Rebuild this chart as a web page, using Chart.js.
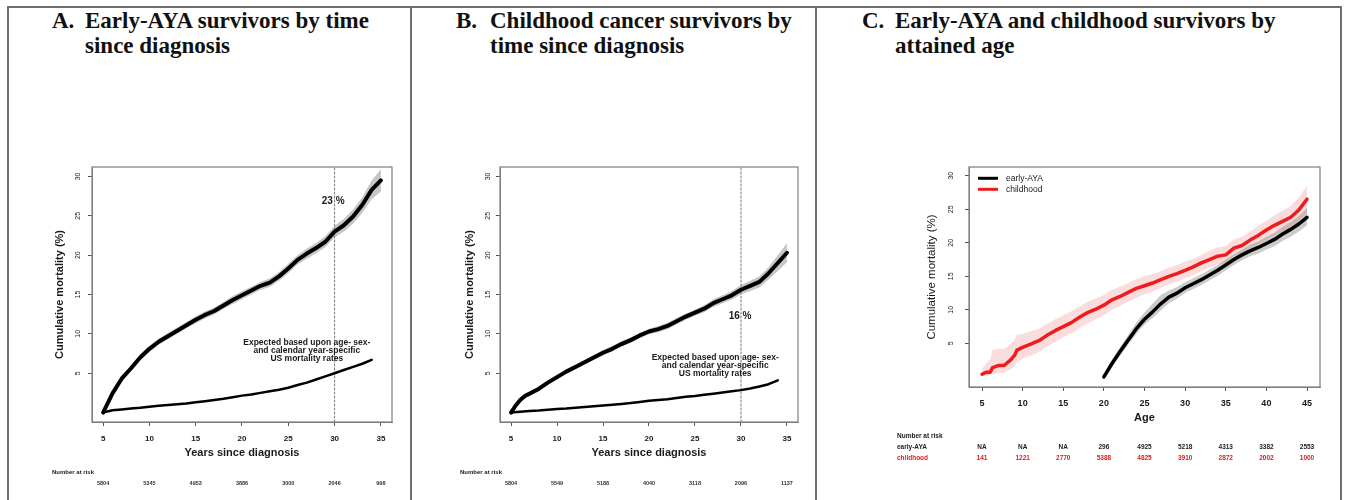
<!DOCTYPE html>
<html>
<head>
<meta charset="utf-8">
<script src="https://cdn.jsdelivr.net/npm/chart.js@4.4.1/dist/chart.umd.min.js"></script>
<style>
  html, body { margin: 0; padding: 0; background: #fff; }
  body { width: 1346px; height: 500px; position: relative; overflow: hidden; }
  .rule { position: absolute; background: #6f6f6f; }
  .ttl { position: absolute; font-family: "Liberation Serif", "Times New Roman", serif; font-weight: bold;
         font-size: 23px; line-height: 25px; color: #111; white-space: nowrap; }
  canvas { position: absolute; }
</style>
</head>
<body>
<!-- panel frame -->
<div class="rule" style="left:7px;top:6px;width:1335px;height:2px"></div>
<div class="rule" style="left:7px;top:6px;width:2px;height:494px"></div>
<div class="rule" style="left:410px;top:6px;width:2px;height:494px"></div>
<div class="rule" style="left:815px;top:6px;width:2px;height:494px"></div>
<div class="rule" style="left:1340px;top:6px;width:2px;height:494px"></div>

<div class="ttl" style="left:52px;top:8px">A.</div>
<div class="ttl" style="left:85px;top:8px">Early-AYA survivors by time<br>since diagnosis</div>
<div class="ttl" style="left:456px;top:8px">B.</div>
<div class="ttl" style="left:490px;top:8px">Childhood cancer survivors by<br>time since diagnosis</div>
<div class="ttl" style="left:862px;top:8px">C.</div>
<div class="ttl" style="left:895px;top:8px">Early-AYA and childhood survivors by<br>attained age</div>

<canvas id="panelA" width="396" height="355" style="left:12px;top:140px"></canvas>
<canvas id="panelB" width="396" height="355" style="left:416px;top:140px"></canvas>
<canvas id="panelC" width="518" height="355" style="left:820px;top:140px"></canvas>

<script>
// ---------- Panel A: early-AYA survivors, cumulative mortality by years since diagnosis ----------
const yearsA = [5,6,7,8,9,10,11,12,13,14,15,16,17,18,19,20,21,22,23,24,25,26,27,28,29,30,31,32,33,34,35];
const mortA = [0,2.4,4.3,5.6,7.0,8.1,9.0,9.7,10.4,11.1,11.8,12.4,12.9,13.6,14.3,14.9,15.5,16.1,16.5,17.3,18.3,19.4,20.2,20.9,21.7,23.0,23.8,24.9,26.4,28.3,29.5];
const mortAHigh = [0.1,2.7,4.65,5.95,7.4,8.5,9.4,10.1,10.8,11.5,12.25,12.85,13.35,14.05,14.8,15.4,16.0,16.6,17.05,17.85,18.9,20.0,20.85,21.55,22.4,23.75,24.6,25.8,27.4,29.5,30.9];
const mortALow = [0,2.1,3.95,5.25,6.6,7.7,8.6,9.3,10.0,10.7,11.35,11.95,12.45,13.15,13.8,14.4,15.0,15.6,15.95,16.75,17.7,18.8,19.55,20.25,21.0,22.25,23.0,24.0,25.4,27.1,28.1];
const yearsExpA = [5,6,7,8,9,10,11,12,13,14,15,16,17,18,19,20,21,22,23,24,25,26,27,28,29,30,31,32,33,34];
const expectedA = [0,0.3,0.4,0.5,0.6,0.75,0.85,0.95,1.05,1.15,1.3,1.45,1.6,1.75,1.95,2.15,2.3,2.5,2.7,2.9,3.15,3.5,3.8,4.2,4.6,5.0,5.4,5.8,6.2,6.7];
const riskA = [5804,5345,4953,3886,3000,2046,998];

// ---------- Panel B: childhood cancer survivors ----------
const yearsB = [5,5.5,6,6.5,7,8,9,10,11,12,13,14,15,16,17,18,19,20,21,22,23,24,25,26,27,28,29,30,31,32,33,34,35];
const mortB = [0,0.9,1.6,2.1,2.4,3.0,3.8,4.5,5.2,5.8,6.4,7.0,7.6,8.1,8.7,9.2,9.8,10.3,10.6,11.0,11.6,12.2,12.7,13.2,13.9,14.4,14.9,15.6,16.1,16.6,17.7,19.0,20.3];
const mortBHigh = [0.05,1.1,1.85,2.4,2.7,3.3,4.1,4.8,5.5,6.1,6.7,7.3,7.95,8.45,9.05,9.55,10.15,10.65,11.0,11.4,12.0,12.6,13.1,13.65,14.4,14.9,15.45,16.2,16.75,17.3,18.5,20.0,21.5];
const mortBLow = [0,0.7,1.35,1.8,2.1,2.7,3.5,4.2,4.9,5.5,6.1,6.7,7.25,7.75,8.35,8.85,9.45,9.95,10.2,10.6,11.2,11.8,12.3,12.75,13.4,13.9,14.35,15.0,15.45,15.9,16.9,18.0,19.1];
const yearsExpB = [5,6,7,8,9,10,11,12,13,14,15,16,17,18,19,20,21,22,23,24,25,26,27,28,29,30,31,32,33,34];
const expectedB = [0,0.1,0.2,0.25,0.35,0.45,0.5,0.6,0.7,0.8,0.9,1.0,1.1,1.2,1.35,1.5,1.6,1.7,1.85,2.0,2.1,2.25,2.4,2.55,2.7,2.85,3.05,3.3,3.6,4.1];
const riskB = [5804,5549,5188,4040,3118,2096,1137];

// shared by A and B
const yearTicks = [5,10,15,20,25,30,35];
const mortTicks = [5,10,15,20,25,30];
const landmarkYear = 30;
const landmarkA = '23 %';
const landmarkB = '16 %';
const expectedNote = ['Expected based upon age- sex-', 'and calendar year-specific', 'US mortality rates'];

// ---------- Panel C: both groups by attained age ----------
const ageChild = [5,5.5,6,6.3,7,7.7,8,8.5,9,9.3,10,11,12,13,14,15,16,17,18,19,20,21,22,23,24,25,26,27,28,29,30,31,32,33,34,35,36,37,38,39,40,41,42,43,44,45];
const mortChild = [0.4,0.7,0.7,1.4,1.7,1.7,2.0,2.5,3.2,4.0,4.4,4.9,5.4,6.2,6.9,7.5,8.1,8.9,9.6,10.1,10.7,11.5,12.0,12.6,13.2,13.6,14.0,14.5,15.0,15.4,15.9,16.4,17.0,17.5,18.0,18.2,19.2,19.6,20.4,21.1,21.9,22.6,23.2,23.8,24.9,26.5];
const mortChildLow = [0.1,0.2,0.2,0.4,0.6,0.6,0.8,1.1,1.6,2.2,2.7,3.2,3.7,4.5,5.2,5.9,6.5,7.3,8.0,8.6,9.2,10.0,10.6,11.2,11.8,12.3,12.7,13.3,13.8,14.2,14.7,15.2,15.8,16.3,16.8,17.0,18.0,18.4,19.1,19.8,20.5,21.1,21.7,22.2,23.1,24.5];
const mortChildHigh = [1.2,2.0,2.6,4.0,4.2,4.2,4.4,4.9,5.5,6.3,6.4,6.8,7.2,7.9,8.6,9.2,9.8,10.5,11.2,11.7,12.2,13.0,13.5,14.0,14.6,15.0,15.3,15.8,16.3,16.7,17.2,17.6,18.2,18.8,19.3,19.5,20.5,20.9,21.7,22.5,23.3,24.1,24.8,25.5,26.8,28.5];
const ageAya = [20,21,22,23,24,25,26,27,28,29,30,31,32,33,34,35,36,37,38,39,40,41,42,43,44,45];
const mortAya = [0,2.0,3.8,5.5,7.2,8.6,9.7,10.9,11.9,12.5,13.3,13.9,14.5,15.2,15.9,16.7,17.5,18.2,18.8,19.3,19.9,20.5,21.3,22.0,22.8,23.8];
const mortAyaLow = [0,1.5,3.2,4.8,6.4,7.8,8.8,9.9,11.0,11.7,12.5,13.1,13.7,14.4,15.1,15.9,16.7,17.4,18.0,18.4,19.0,19.5,20.3,20.9,21.7,22.6];
const mortAyaHigh = [0.3,2.6,4.5,6.3,8.1,9.6,10.9,12.2,12.9,13.4,14.1,14.7,15.3,16.0,16.7,17.5,18.3,19.0,19.7,20.2,20.9,21.5,22.4,23.1,24.0,25.2];
const ageTicks = [5,10,15,20,25,30,35,40,45];
const riskAya = ['NA','NA','NA',296,4925,5218,4313,3382,2553];
const riskChild = [141,1221,2770,5388,4825,3910,2872,2002,1000];

const SANS = '"Liberation Sans", Arial, Helvetica, sans-serif';
const font = (size, weight) => ({ family: SANS, size: size, weight: weight || 'normal' });
const cssFont = (size, weight) => (weight || 'normal') + ' ' + size + 'px ' + SANS;
const pts = (xs, ys) => xs.map((x, i) => ({ x: x, y: ys[i] }));

// box, rotated y labels, notes, legend and the number-at-risk table
function decor(spec) {
  return {
    id: 'decor',
    afterDatasetsDraw(chart) {
      const { ctx, chartArea: a } = chart;
      ctx.save();
      ctx.strokeStyle = '#7d7d7d';
      ctx.lineWidth = 1.2;
      ctx.strokeRect(a.left, a.top, a.right - a.left, a.bottom - a.top);
      ctx.restore();
    },
    afterDraw(chart) {
      const { ctx, chartArea: a } = chart;
      const xs = chart.scales.x, ys = chart.scales.y;
      ctx.save();
      ctx.fillStyle = '#1a1a1a';
      ctx.textAlign = 'center';
      ctx.textBaseline = 'middle';

      ctx.font = spec.yTickFont;
      ys.ticks.forEach(t => {
        ctx.save();
        ctx.translate(spec.yTickX, ys.getPixelForValue(t.value));
        ctx.rotate(-Math.PI / 2);
        ctx.fillText(String(t.value), 0, 0);
        ctx.restore();
      });

      (spec.notes || []).forEach(n => {
        ctx.font = n.font;
        const x = xs.getPixelForValue(n.x);
        let y = ys.getPixelForValue(n.y);
        n.lines.forEach(line => { ctx.fillText(line, x, y); y += n.step || 0; });
      });

      if (spec.legend) {
        const L = spec.legend;
        ctx.font = L.font;
        ctx.textAlign = 'left';
        L.items.forEach((idx, k) => {
          const ds = chart.data.datasets[idx];
          const y = a.top + L.top + k * L.step;
          ctx.strokeStyle = ds.borderColor;
          ctx.lineWidth = 3;
          ctx.beginPath();
          ctx.moveTo(a.left + L.left, y);
          ctx.lineTo(a.left + L.left + L.len, y);
          ctx.stroke();
          ctx.fillStyle = '#222';
          ctx.fillText(ds.label, a.left + L.left + L.len + L.gap, y);
        });
      }

      const r = spec.risk;
      ctx.fillStyle = '#1a1a1a';
      ctx.font = r.headFont;
      ctx.textAlign = 'left';
      ctx.fillText('Number at risk', r.headX, r.headY);
      r.rows.forEach(row => {
        ctx.fillStyle = row.color;
        if (row.label) {
          ctx.font = r.labelFont;
          ctx.textAlign = 'left';
          ctx.fillText(row.label, r.headX, row.y);
        }
        ctx.font = r.valueFont;
        ctx.textAlign = 'center';
        row.values.forEach((v, i) => ctx.fillText(String(v), xs.getPixelForValue(r.at[i]), row.y));
      });
      ctx.restore();
    }
  };
}

function panel(id, o) {
  return new Chart(document.getElementById(id), {
    type: 'line',
    data: { datasets: o.datasets },
    options: {
      responsive: false,
      animation: false,
      devicePixelRatio: 1,
      layout: { padding: { left: 0, top: 27, right: o.padRight, bottom: 0 } },
      plugins: { legend: { display: false }, tooltip: { enabled: false } },
      elements: { point: { radius: 0 }, line: { tension: 0, borderJoinStyle: 'round', borderCapStyle: 'round' } },
      scales: {
        x: {
          type: 'linear', min: o.xMin, max: o.xMax,
          afterBuildTicks: s => { s.ticks = o.xTicks.map(v => ({ value: v })); },
          afterFit: s => { s.height = o.xHeight; },
          grid: { drawOnChartArea: false, drawTicks: true, tickLength: 4, color: '#555' },
          border: { color: '#7d7d7d' },
          ticks: { font: o.xTickFont, color: '#1a1a1a', padding: o.xTickPad, maxRotation: 0, autoSkip: false },
          title: { display: true, text: o.xTitle, font: o.xTitleFont, color: '#1a1a1a',
                   padding: { top: 0, bottom: o.xTitlePad } }
        },
        y: {
          type: 'linear', min: o.yMin, max: o.yMax,
          afterBuildTicks: s => { s.ticks = mortTicks.map(v => ({ value: v })); },
          afterFit: s => { s.width = o.yWidth; },
          grid: { drawOnChartArea: false, drawTicks: true, tickLength: 4, color: '#555' },
          border: { color: '#7d7d7d' },
          ticks: { display: false },
          title: { display: true, text: 'Cumulative mortality (%)', font: o.yTitleFont, color: '#1a1a1a',
                   padding: { top: o.yTitlePad, bottom: 0 } }
        }
      }
    },
    plugins: [decor(o.decor)]
  });
}

function survivalSets(years, mort, low, high, expYears, expected, yMin, yMax) {
  return [
    { label: 'Observed', data: pts(years, mort), borderColor: '#000', borderWidth: 4, order: 0 },
    { label: 'Expected', data: pts(expYears, expected), borderColor: '#000', borderWidth: 2.5, order: 0 },
    { label: 'Year ' + landmarkYear, data: pts([landmarkYear, landmarkYear], [yMin, yMax]),
      borderColor: '#777', borderWidth: 1, borderDash: [2, 2], order: 0 },
    { label: '95% CI upper', data: pts(years, high), borderWidth: 0, borderColor: 'rgba(0,0,0,0)',
      backgroundColor: '#c6c6c6', fill: '+1', order: 3 },
    { label: '95% CI lower', data: pts(years, low), borderWidth: 0, borderColor: 'rgba(0,0,0,0)',
      fill: false, order: 3 }
  ];
}

const abBase = {
  xMin: 3.8, xMax: 36.2, yMin: -1.2, yMax: 31.2,
  xTicks: yearTicks, xHeight: 73, xTickPad: 8, xTickFont: font(8, 'bold'),
  xTitle: 'Years since diagnosis', xTitleFont: font(11, 'bold'), xTitlePad: 35,
  yTitleFont: font(11, 'bold')
};

panel('panelA', Object.assign({}, abBase, {
  padRight: 16, yWidth: 80, yTitlePad: 41,
  datasets: survivalSets(yearsA, mortA, mortALow, mortAHigh, yearsExpA, expectedA, -1.2, 31.2),
  decor: {
    yTickX: 66, yTickFont: cssFont(7),
    notes: [
      { x: 29.85, y: 26.9, lines: [landmarkA], font: cssFont(10, 'bold') },
      { x: 27.0, y: 8.9, lines: expectedNote, step: 8, font: cssFont(8.5, 'bold') }
    ],
    risk: { headX: 40, headY: 332, headFont: cssFont(6, 'bold'), valueFont: cssFont(5.5, 'bold'),
            at: yearTicks, rows: [{ y: 343, color: '#333', values: riskA }] }
  }
}));

panel('panelB', Object.assign({}, abBase, {
  padRight: 14, yWidth: 84, yTitlePad: 47,
  datasets: survivalSets(yearsB, mortB, mortBLow, mortBHigh, yearsExpB, expectedB, -1.2, 31.2),
  decor: {
    yTickX: 72, yTickFont: cssFont(7),
    notes: [
      { x: 29.9, y: 12.3, lines: [landmarkB], font: cssFont(10, 'bold') },
      { x: 27.2, y: 7.0, lines: expectedNote, step: 8, font: cssFont(8.5, 'bold') }
    ],
    risk: { headX: 44, headY: 332, headFont: cssFont(6, 'bold'), valueFont: cssFont(5.5, 'bold'),
            at: yearTicks, rows: [{ y: 343, color: '#333', values: riskB }] }
  }
}));

panel('panelC', {
  xMin: 3.4, xMax: 46.6, yMin: -1.5, yMax: 31.3,
  xTicks: ageTicks, xHeight: 108, xTickPad: 7, xTickFont: font(9, 'bold'),
  xTitle: 'Age', xTitleFont: font(11, 'bold'), xTitlePad: 70,
  yTitleFont: font(11.5), yTitlePad: 105,
  padRight: 18, yWidth: 149,
  datasets: [
    { label: 'early-AYA', data: pts(ageAya, mortAya), borderColor: '#000', borderWidth: 3.5, order: 0 },
    { label: 'childhood', data: pts(ageChild, mortChild), borderColor: '#ee1c1c', borderWidth: 3.5, order: 1 },
    { label: 'early-AYA CI upper', data: pts(ageAya, mortAyaHigh), borderWidth: 0, borderColor: 'rgba(0,0,0,0)',
      backgroundColor: 'rgba(140,140,140,0.45)', fill: '+1', order: 3 },
    { label: 'early-AYA CI lower', data: pts(ageAya, mortAyaLow), borderWidth: 0, borderColor: 'rgba(0,0,0,0)',
      fill: false, order: 3 },
    { label: 'childhood CI upper', data: pts(ageChild, mortChildHigh), borderWidth: 0, borderColor: 'rgba(0,0,0,0)',
      backgroundColor: 'rgba(238,130,130,0.28)', fill: '+1', order: 4 },
    { label: 'childhood CI lower', data: pts(ageChild, mortChildLow), borderWidth: 0, borderColor: 'rgba(0,0,0,0)',
      fill: false, order: 4 }
  ],
  decor: {
    yTickX: 130.7, yTickFont: cssFont(7),
    legend: { items: [0, 1], left: 9, len: 20, gap: 8, top: 11.3, step: 11, font: cssFont(8.5) },
    risk: { headX: 77, headY: 296.7, headFont: cssFont(6.5, 'bold'), labelFont: cssFont(6.5, 'bold'),
            valueFont: cssFont(6.5, 'bold'), at: ageTicks,
            rows: [
              { label: 'early-AYA', y: 307.7, color: '#222', values: riskAya },
              { label: 'childhood', y: 318.3, color: '#dd1c1c', values: riskChild }
            ] }
  }
});
</script>
</body>
</html>
